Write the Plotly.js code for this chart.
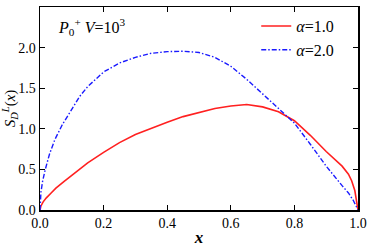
<!DOCTYPE html>
<html><head><meta charset="utf-8">
<script src="https://cdn.plot.ly/plotly-3.0.1.min.js"></script>
<style>body{margin:0;padding:0;}#plot{width:369px;height:247px;}
#plot text, #plot tspan {font-family: "Liberation Serif", "Times New Roman", serif !important;}</style>
</head><body><div id="plot"></div>
<script>
const xRed = [0, 0.003, 0.01, 0.02, 0.035, 0.05, 0.075, 0.1, 0.15, 0.2, 0.25, 0.3, 0.35, 0.4, 0.45, 0.5, 0.55, 0.6, 0.65, 0.7, 0.75, 0.8, 0.85, 0.9, 0.93, 0.95, 0.97, 0.98, 0.99, 0.995, 1.0];
const yRed = [0, 0.05, 0.10, 0.15, 0.21, 0.27, 0.35, 0.43, 0.58, 0.71, 0.83, 0.93, 1.01, 1.08, 1.15, 1.20, 1.25, 1.28, 1.30, 1.27, 1.21, 1.10, 0.92, 0.72, 0.61, 0.54, 0.44, 0.36, 0.24, 0.14, 0];
const xBlue = [0, 0.003, 0.008, 0.016, 0.03, 0.047, 0.07, 0.1, 0.125, 0.15, 0.2, 0.25, 0.3, 0.35, 0.4, 0.45, 0.5, 0.55, 0.6, 0.65, 0.7, 0.75, 0.8, 0.85, 0.9, 0.95, 0.97, 0.985, 1.0];
const yBlue = [0, 0.22, 0.35, 0.49, 0.69, 0.87, 1.05, 1.25, 1.40, 1.52, 1.70, 1.81, 1.88, 1.93, 1.95, 1.955, 1.94, 1.88, 1.77, 1.61, 1.43, 1.26, 1.07, 0.81, 0.54, 0.30, 0.21, 0.12, 0];
const names = ['<i>α</i>=1.0', '<i>α</i>=2.0'];

const F = 'Liberation Serif';
const traces = [
  {x: xRed, y: yRed, name: names[0], mode: 'lines', line: {color: '#ff2020', width: 1.6}},
  {x: xBlue, y: yBlue, name: names[1], mode: 'lines', line: {color: '#1a1aff', width: 1.4, dash: '5px,2px,1.5px,2px'}}
];
const ax = {showline: true, linecolor: '#000', linewidth: 1.5, mirror: 'ticks', ticks: 'inside', ticklen: 5, tickwidth: 1, tickcolor: '#000', showgrid: false, zeroline: false, tickfont: {family: F, size: 14, color: '#000'}};
const layout = {
  width: 369, height: 247,
  margin: {l: 40, r: 11, t: 7, b: 37},
  paper_bgcolor: '#fff', plot_bgcolor: '#fff',
  font: {family: F, color: '#000'},
  xaxis: Object.assign({}, ax, {range: [0, 1], dtick: 0.2, tickformat: '.1f', title: {text: '<b><i>x</i></b>', font: {family: F, size: 17}, standoff: 4}}),
  yaxis: Object.assign({}, ax, {range: [0, 2.5], dtick: 0.5, tickformat: '.1f', title: {text: '<i>S</i><sub><i>D</i></sub><sup><i>L</i></sup>(<i>x</i>)', font: {family: F, size: 15}, standoff: 6}}),
  legend: {x: 0.68, y: 0.99, xanchor: 'left', yanchor: 'top', bgcolor: 'rgba(0,0,0,0)', font: {family: F, size: 16}, itemwidth: 30, tracegroupgap: 0},
  showlegend: true,
  annotations: [{xref: 'paper', yref: 'paper', x: 0.05, y: 0.9, xanchor: 'left', yanchor: 'middle', showarrow: false, text: '<i>P</i><sub>0</sub><sup>+</sup> <i>V</i>=10<sup>3</sup>', font: {family: F, size: 16}}]
};
Plotly.newPlot('plot', traces, layout, {staticPlot: true, displayModeBar: false});
</script></body></html>
